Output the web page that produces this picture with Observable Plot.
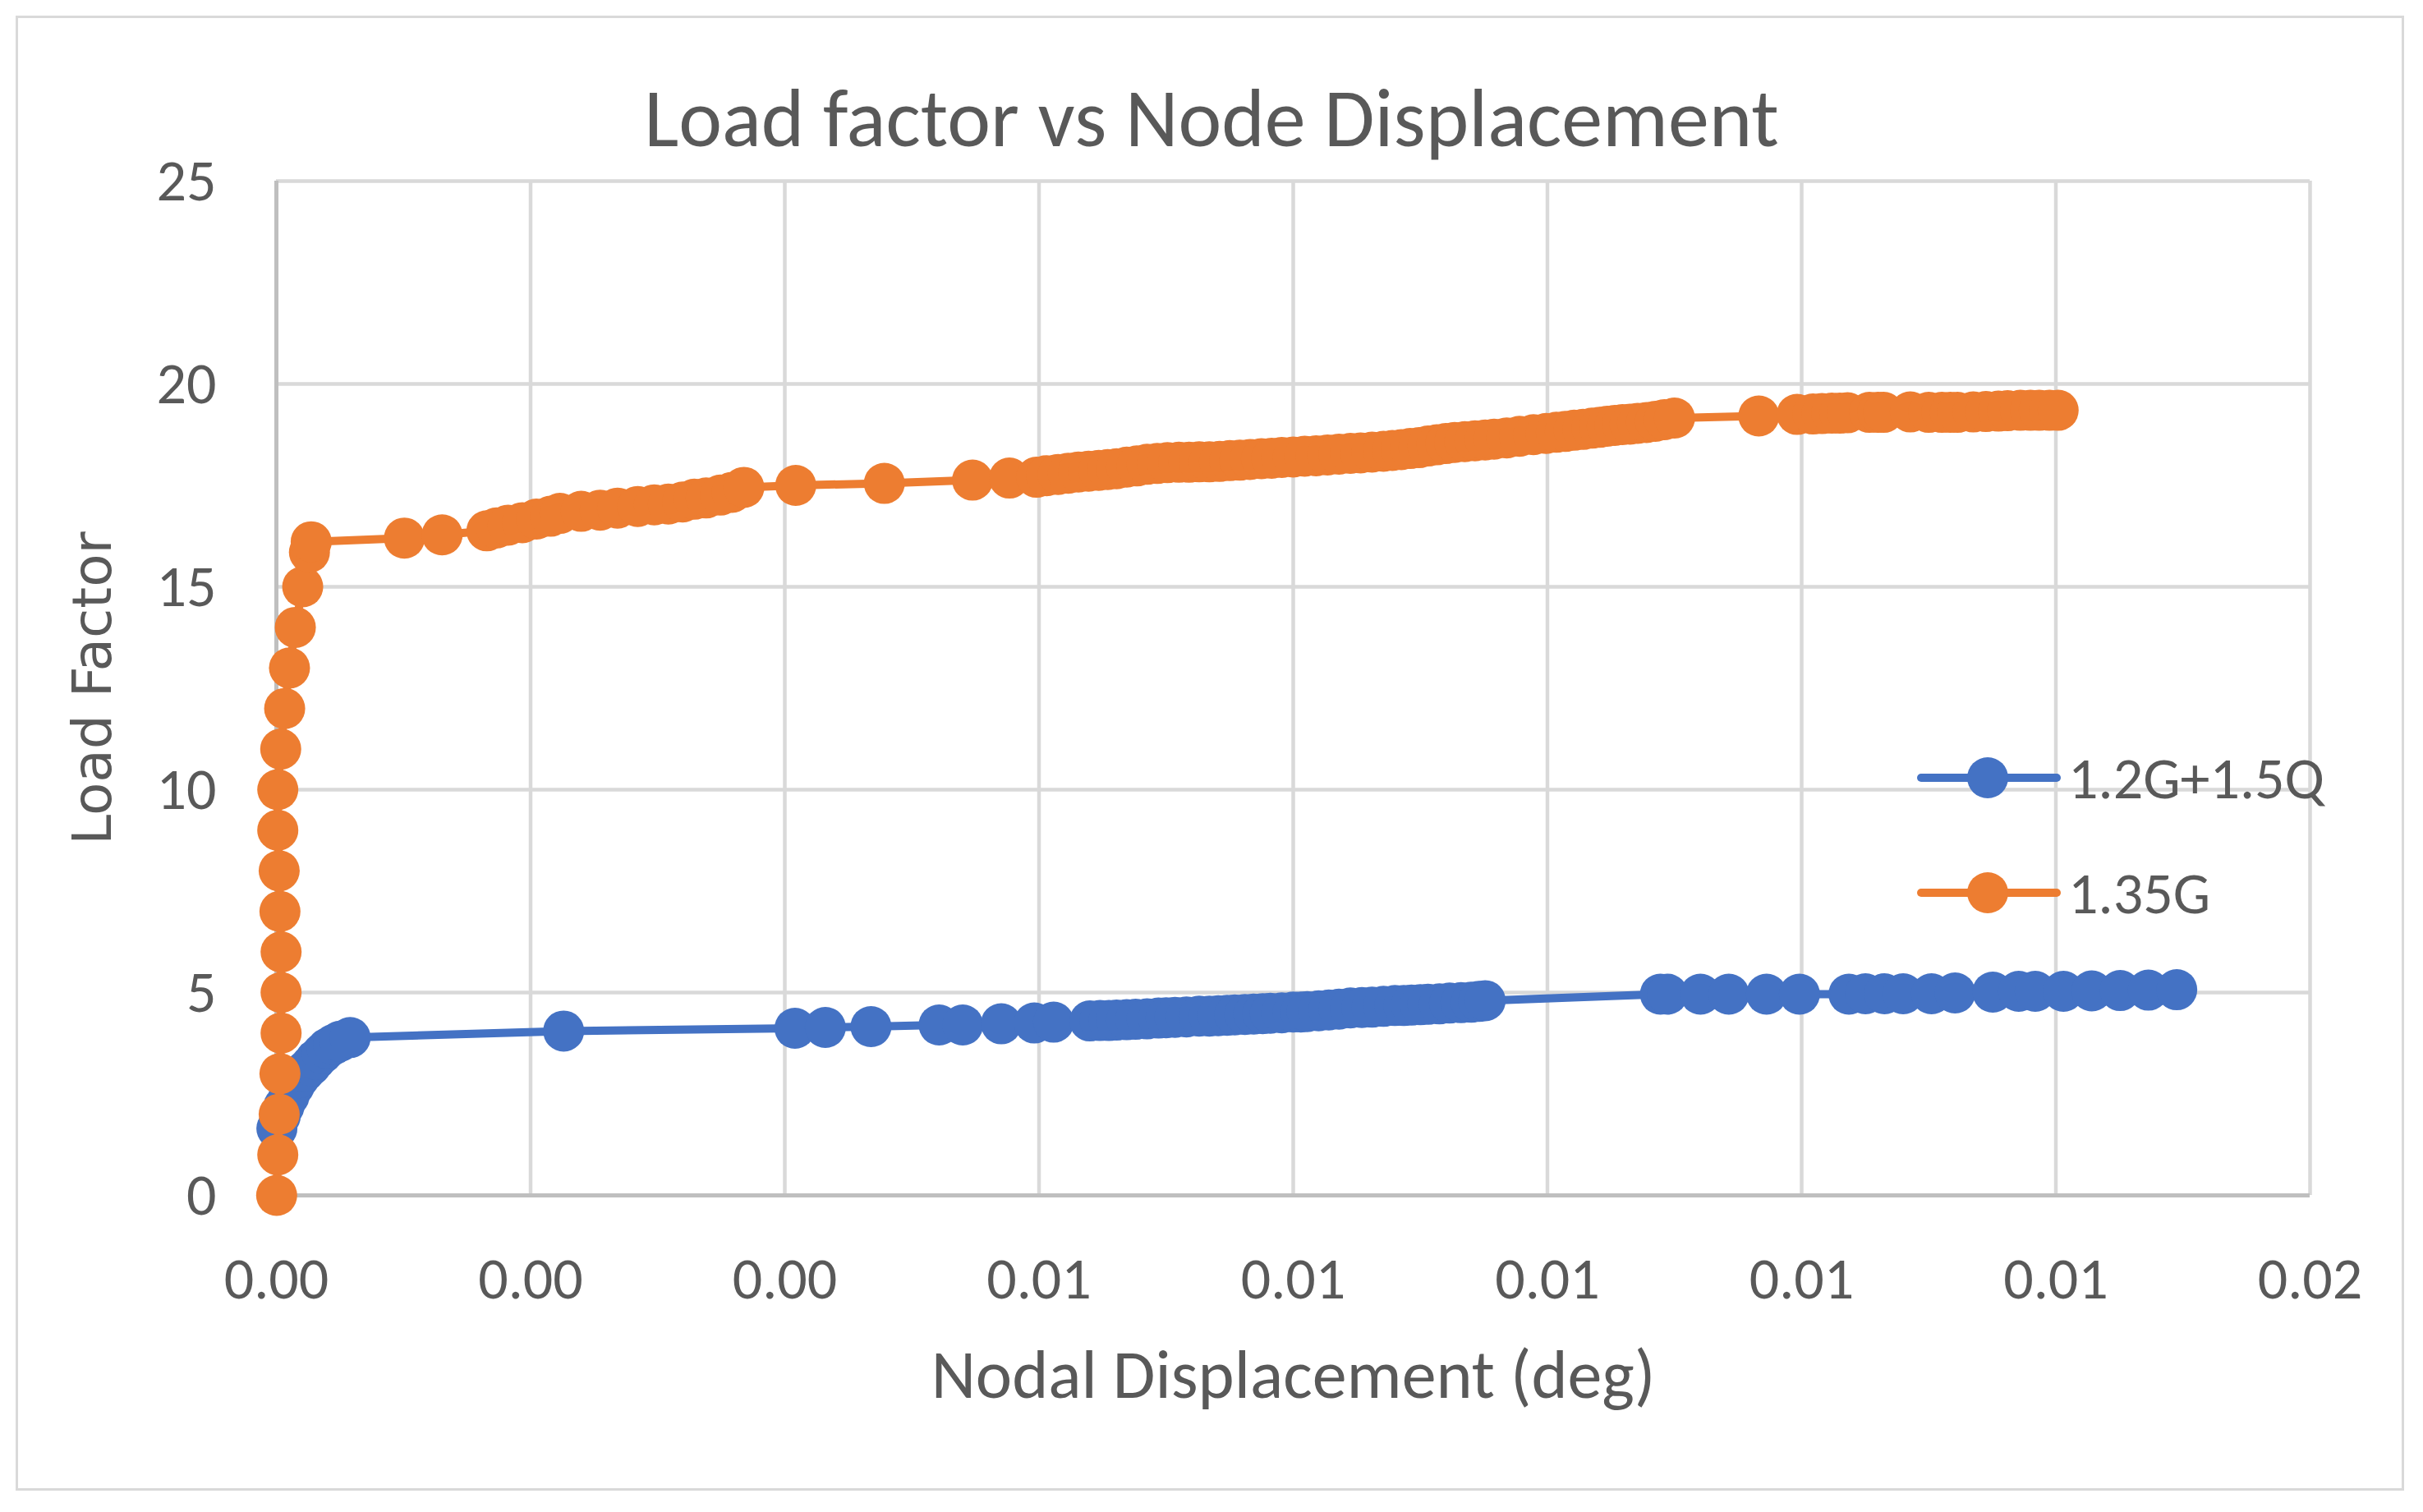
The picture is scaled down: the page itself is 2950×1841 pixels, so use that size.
<!DOCTYPE html>
<html><head><meta charset="utf-8">
<script src="https://cdn.jsdelivr.net/npm/d3@7"></script>
<script src="https://cdn.jsdelivr.net/npm/@observablehq/plot@0.6"></script>
<style>
body{margin:0;background:#fff;}
#wrap{position:relative;width:2950px;height:1841px;background:#fff;font-family:Carlito, Calibri, Lato, sans-serif;color:#595959;overflow:hidden;}
#border{position:absolute;left:19px;top:19px;width:2902px;height:1790px;border:3px solid #d9d9d9;}
#title{position:absolute;left:0;width:2950px;top:94px;text-align:center;font-size:100px;line-height:1;white-space:nowrap;}
#chart{position:absolute;left:0;top:190px;}
.leg{position:absolute;left:2334px;height:80px;display:flex;align-items:center;font-size:72px;white-space:nowrap;}
.leg svg{margin-right:9px;}
</style>
</head><body>
<div id="wrap">
  <div id="border"></div>
  <div id="title">Load factor vs Node Displacement</div>
  <div id="chart"></div>
  <div id="legend"></div>
</div>
<script>
// ---- data ----
const seriesNames = ["1.2G+1.5Q", "1.35G"];
const seriesColors = ["#4472c4", "#ed7d31"];

const blueX = [0.000004,0.00003,0.00006,0.0001,0.00014,0.00018,0.00022,0.00027,0.00031,0.00036,0.0004,0.00045,0.0005,0.00058,
  0.00226,
  0.00408,0.004319,0.004678,0.005214,0.0054,0.005703,0.005963,0.006115,
  0.0064,0.00648,0.00655,0.00661,0.00669,0.00676,0.00685,0.00694,0.007,0.00707,0.00716,0.00726,0.00734,0.00741,0.00748,0.00754,0.00762,0.00769,0.00776,0.00782,0.00791,0.008,0.00806,0.00811,0.0082,0.00828,0.00836,0.00845,0.00854,0.00862,0.00871,0.0088,0.00887,0.00893,0.009,0.00906,0.00915,0.00923,0.00932,0.0094,0.00946,0.00951,
  0.010889,0.010944,0.011204,0.011427,0.011724,0.011983,0.012372,0.012502,0.012651,0.012799,0.013022,0.013207,0.013504,0.013708,0.013838,0.01406,0.014283,0.014506,0.014728,0.014951];
const blueY = [1.65,1.95,2.2,2.45,2.7,2.9,3.05,3.2,3.35,3.5,3.62,3.72,3.8,3.89,
  4.05,
  4.12,4.14,4.16,4.2,4.2,4.23,4.25,4.27,
  4.3,4.31,4.31,4.32,4.33,4.34,4.35,4.37,4.38,4.39,4.4,4.42,4.42,4.43,4.44,4.45,4.46,4.47,4.48,4.49,4.5,4.52,4.52,4.53,4.55,4.57,4.59,4.62,4.63,4.64,4.66,4.68,4.68,4.69,4.7,4.71,4.72,4.74,4.75,4.76,4.78,4.8,
  4.96,4.96,4.96,4.96,4.96,4.96,4.96,4.97,4.97,4.97,4.97,4.99,5.01,5.03,5.03,5.03,5.04,5.05,5.06,5.07];

const orangeX = [0.000002,0.000011,0.000022,0.000028,0.000037,0.000037,0.000037,0.000028,0.000022,0.000011,0.000011,0.000034,0.000065,0.000103,0.000149,0.000207,0.00026,0.000274,
  0.001007,0.001304,
  0.001656,0.001731,0.001823,0.001935,0.002046,0.002157,0.002231,0.002398,0.002547,0.002684,0.002843,0.002973,0.003084,0.003196,0.003288,0.003381,0.003493,0.003585,0.003678,
  0.004086,0.004783,0.005477,0.005767,
  0.00598,0.00606,0.00615,0.00623,0.00631,0.00639,0.00647,0.00654,0.00661,0.00669,0.00677,0.00685,0.00693,0.00701,0.0071,0.00718,0.00726,0.00734,0.00742,0.0075,0.00758,0.00766,0.00775,0.00783,0.00791,0.008,0.00809,0.00818,0.00827,0.00836,0.00845,0.00853,0.00862,0.00871,0.00878,0.00885,0.00892,0.00899,0.00906,0.00913,0.0092,0.00927,0.00935,0.00943,0.00951,0.00958,0.00968,0.00978,0.00989,0.00999,0.01007,0.01014,0.01021,0.01028,0.01035,0.01041,0.01047,0.01053,0.01059,0.01065,0.01071,0.01078,0.01085,0.01092,0.011,
  0.011663,
  0.011964,0.012089,0.012160,0.012237,0.012300,0.012361,0.012533,0.012600,0.012645,0.012855,0.013,0.013103,0.013170,0.013226,0.01335,0.01345,0.013548,0.01362,0.013721,0.0138,0.013869,0.01395,0.014018];
const orangeY = [0,1,2,3,4,5,6,7,8,9,10,11,12,13,14,15,15.85,16.11,
  16.2,16.28,
  16.38,16.45,16.52,16.58,16.67,16.74,16.81,16.86,16.89,16.94,16.98,17.02,17.04,17.09,17.16,17.19,17.26,17.33,17.45,
  17.5,17.55,17.63,17.68,
  17.7,17.74,17.77,17.8,17.83,17.85,17.87,17.89,17.91,17.95,17.98,18.02,18.04,18.06,18.07,18.07,18.08,18.08,18.09,18.11,18.12,18.14,18.16,18.17,18.19,18.2,18.22,18.23,18.25,18.27,18.29,18.3,18.32,18.34,18.36,18.38,18.41,18.43,18.47,18.5,18.53,18.56,18.58,18.6,18.62,18.64,18.67,18.71,18.75,18.78,18.81,18.83,18.86,18.88,18.91,18.93,18.96,18.98,19,19.01,19.03,19.05,19.08,19.12,19.16,
  19.21,
  19.25,19.26,19.27,19.28,19.28,19.29,19.3,19.3,19.3,19.31,19.3,19.3,19.3,19.3,19.31,19.32,19.33,19.34,19.35,19.35,19.35,19.35,19.35];

const xTicks = [0, 0.002, 0.004, 0.006, 0.008, 0.010, 0.012, 0.014, 0.016];
const yTicks = [0, 5, 10, 15, 20, 25];
const xTitle = "Nodal Displacement (deg)";
const yTitle = "Load Factor";

// ---- build tables ----
const blue = blueX.map((x, i) => ({x, y: blueY[i], s: seriesNames[0]}));
const orange = orangeX.map((x, i) => ({x, y: orangeY[i], s: seriesNames[1]}));

const grid = "#d9d9d9", axisCol = "#bfbfbf";
const plot = Plot.plot({
  width: 2950, height: 1651,
  marginLeft: 336, marginRight: 138, marginTop: 30, marginBottom: 386,
  style: {fontFamily: "Carlito, Calibri, Lato, sans-serif", fontSize: "72px", color: "#595959", background: "transparent", overflow: "visible"},
  x: {domain: [0, 0.016]},
  y: {domain: [0, 25]},
  marks: [
    Plot.gridX(xTicks, {stroke: grid, strokeOpacity: 1, strokeWidth: 4.5}),
    Plot.gridY(yTicks, {stroke: grid, strokeOpacity: 1, strokeWidth: 4.5}),
    Plot.ruleY([0], {stroke: axisCol, strokeWidth: 5}),
    Plot.ruleX([0], {stroke: axisCol, strokeWidth: 5}),
    Plot.axisX(xTicks, {tickSize: 0, tickPadding: 74, tickFormat: d3.format(".2f"), label: xTitle, labelArrow: false, labelAnchor: "center", labelOffset: 246}),
    Plot.axisY(yTicks, {tickSize: 0, tickPadding: 73, label: yTitle, labelArrow: false, labelAnchor: "center", labelOffset: 248}),
    Plot.line(blue, {x: "x", y: "y", stroke: seriesColors[0], strokeWidth: 10}),
    Plot.dot(blue, {x: "x", y: "y", r: 25, fill: seriesColors[0]}),
    Plot.line(orange, {x: "x", y: "y", stroke: seriesColors[1], strokeWidth: 10}),
    Plot.dot(orange, {x: "x", y: "y", r: 25, fill: seriesColors[1]})
  ]
});
// axis-title fonts
plot.querySelectorAll("text").forEach(t => {
  const s = t.textContent.trim();
  if (s.startsWith(yTitle)) { t.style.fontFamily = "'DejaVu Sans', sans-serif"; t.style.fontSize = "66px"; }
  if (s.startsWith("Nodal")) { t.style.fontSize = "84px"; }
});
document.getElementById("chart").appendChild(plot);

// ---- legend ----
const legend = document.getElementById("legend");
const legTops = [907, 1047];
seriesNames.forEach((name, i) => {
  const d = document.createElement("div");
  d.className = "leg";
  d.style.top = legTops[i] + "px";
  d.innerHTML = `<svg width="175" height="60"><line x1="5" y1="30" x2="170" y2="30" stroke="${seriesColors[i]}" stroke-width="10" stroke-linecap="round"/><circle cx="86" cy="30" r="25" fill="${seriesColors[i]}"/></svg><span>${name}</span>`;
  legend.appendChild(d);
});
</script>
</body></html>
